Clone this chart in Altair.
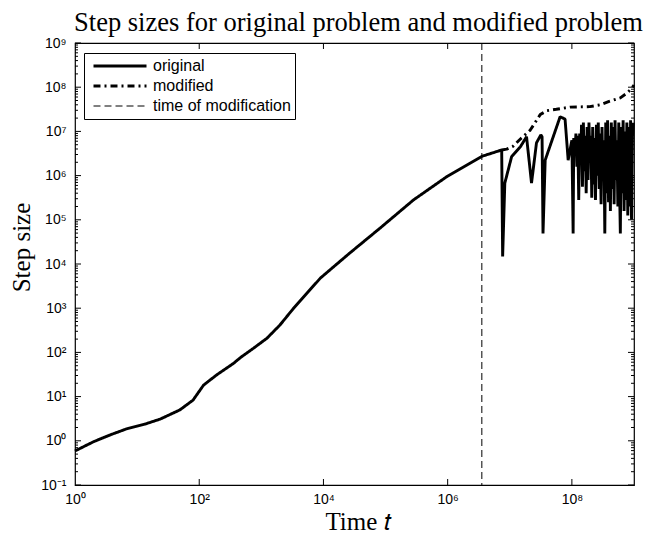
import altair as alt
import pandas as pd

# ---- data (log10 values) ----
orig_log_t = [0.0, 0.3, 0.56, 0.83, 1.13, 1.37, 1.69, 1.90, 2.07, 2.28, 2.55, 2.68, 2.87, 3.09,
              3.30, 3.52, 3.95, 4.40, 4.91, 5.45, 5.99, 6.56, 6.87, 6.885, 6.92, 7.03, 7.17, 7.27,
              7.35, 7.43, 7.50, 7.52, 7.535, 7.57, 7.81, 7.89, 7.94, 8.0, 8.02,
              8.03, 8.05, 8.065, 8.08, 8.095, 8.11, 8.125, 8.14, 8.155, 8.17, 8.185, 8.20, 8.215,
              8.23, 8.245, 8.26, 8.275, 8.29, 8.305, 8.32, 8.335, 8.35, 8.365, 8.38, 8.395, 8.41,
              8.425, 8.44, 8.455, 8.47, 8.485, 8.50, 8.515, 8.53, 8.545, 8.56, 8.575, 8.59, 8.605,
              8.62, 8.635, 8.65, 8.665, 8.68, 8.695, 8.71, 8.725, 8.74, 8.755, 8.77, 8.78, 8.795,
              8.81, 8.825, 8.84, 8.855, 8.87, 8.885, 8.90, 8.915, 8.93, 8.945, 8.96, 8.975, 8.99]
orig_log_s = [-0.23, -0.02, 0.13, 0.27, 0.38, 0.49, 0.70, 0.92, 1.26, 1.49, 1.75, 1.90, 2.09, 2.32,
              2.62, 3.0, 3.68, 4.22, 4.81, 5.45, 5.98, 6.44, 6.58, 4.17, 5.83, 6.43, 6.65, 6.88,
              5.83, 6.74, 6.92, 6.88, 4.69, 6.35, 7.33, 7.28, 6.35, 6.8, 4.69,
              6.85, 6.55, 6.95, 6.2, 6.9, 5.45, 6.95, 6.3, 7.15, 5.75, 7.2, 6.1, 6.9,
              5.6, 7.1, 5.9, 7.2, 6.4, 6.9, 5.5, 7.1, 5.8, 6.85, 5.45, 7.15, 6.0,
              7.2, 5.7, 6.95, 5.35, 7.1, 5.9, 6.8, 4.69, 7.2, 5.6, 7.25, 5.4, 6.9,
              5.2, 7.2, 5.7, 7.1, 5.35, 7.25, 5.9, 6.8, 5.3, 7.2, 5.5, 4.69, 7.1,
              5.6, 7.25, 5.2, 7.0, 5.45, 7.2, 5.1, 7.1, 5.3, 7.25, 5.0, 6.9, 7.2]

mod_log_t = [6.87, 6.95, 7.05, 7.15, 7.33, 7.49, 7.60, 7.75, 7.97, 8.29, 8.45, 8.60, 8.78, 8.90, 8.96, 9.0]
mod_log_s = [6.58, 6.60, 6.66, 6.80, 7.03, 7.38, 7.47, 7.50, 7.55, 7.56, 7.60, 7.68, 7.76, 7.88, 7.97, 8.05]

modification_time = 3.55e6

series_names = ["original", "modified", "time of modification"]
x_tick_values = [1, 1e2, 1e4, 1e6, 1e8]
y_tick_values = [1e-1, 1e0, 1e1, 1e2, 1e3, 1e4, 1e5, 1e6, 1e7, 1e8, 1e9]
y_minor_values = [m * d for d in [1e-1, 1e0, 1e1, 1e2, 1e3, 1e4, 1e5, 1e6, 1e7, 1e8] for m in range(2, 10)]

# ---- tables ----
df_orig = pd.DataFrame({"lt": orig_log_t, "ls": orig_log_s, "series": "original"})
df_mod = pd.DataFrame({"lt": mod_log_t, "ls": mod_log_s, "series": "modified"})
df = pd.concat([df_orig, df_mod], ignore_index=True)
df["t"] = 10 ** df["lt"]
df["s"] = 10 ** df["ls"]
df["order"] = range(len(df))
df_vline = pd.DataFrame({"t": [modification_time], "series": ["time of modification"]})

W, H = 559, 442

xs = alt.Scale(type="log", domain=[1, 1e9], nice=False)
ys = alt.Scale(type="log", domain=[0.1, 1e9], nice=False)
dash_scale = alt.Scale(domain=series_names, range=[[1, 0], [7, 4, 2, 4], [7, 4]])
width_scale = alt.Scale(type="ordinal", domain=series_names, range=[2.9, 2.9, 1.0])

sup = "['\u207b\u00b9','\u2070','\u00b9','\u00b2','\u00b3','\u2074','\u2075','\u2076','\u2077','\u2078','\u2079'][round(log(datum.value)/LN10)+1]"
label_expr = "'10' + " + sup

legend = alt.Legend(title=None, orient="none", legendX=9, legendY=10)

x_axis = alt.Axis(values=x_tick_values, labelExpr=label_expr, labelFlush=False, labelOverlap=False,
                  labelPadding=7, title="Time \U0001D461", titleX=283, titleY=36,
                  titleBaseline="middle", titleAlign="center")
y_axis = alt.Axis(values=y_tick_values, labelExpr=label_expr, labelFlush=False, labelOverlap=False,
                  labelPadding=9, title="Step size", titleX=-54, titleY=204, titleAngle=270,
                  titleBaseline="middle", titleAlign="center")

lines = alt.Chart(df).mark_line(color="black", strokeJoin="bevel").encode(
    x=alt.X("t:Q", scale=xs, axis=x_axis),
    y=alt.Y("s:Q", scale=ys, axis=y_axis),
    order="order:Q",
    strokeDash=alt.StrokeDash("series:N", scale=dash_scale, legend=legend),
    strokeWidth=alt.StrokeWidth("series:N", scale=width_scale, legend=legend),
)

vline = alt.Chart(df_vline).mark_rule(color="black").encode(
    x=alt.X("t:Q", scale=xs, axis=x_axis),
    strokeDash=alt.StrokeDash("series:N", scale=dash_scale, legend=legend),
    strokeWidth=alt.StrokeWidth("series:N", scale=width_scale, legend=legend),
)

ymaj = pd.DataFrame({"s": y_tick_values})
ymin = pd.DataFrame({"s": y_minor_values})
xmaj = pd.DataFrame({"t": x_tick_values[1:]})

def ytick_layer(data, x0, x1):
    return alt.Chart(data).mark_rule(color="black", strokeWidth=1).encode(
        y=alt.Y("s:Q", scale=ys, axis=y_axis), x=alt.value(x0), x2=alt.value(x1))

def xtick_layer(data, y0, y1):
    return alt.Chart(data).mark_rule(color="black", strokeWidth=1).encode(
        x=alt.X("t:Q", scale=xs, axis=x_axis), y=alt.value(y0), y2=alt.value(y1))

ticks = [
    ytick_layer(ymaj, 0, 6), ytick_layer(ymaj, W - 6, W),
    ytick_layer(ymin, 0, 3), ytick_layer(ymin, W - 3, W),
    xtick_layer(xmaj, H - 6, H), xtick_layer(xmaj, 0, 6),
]

chart = alt.layer(vline, lines, *ticks).properties(
    width=W, height=H,
    padding={"left": 75, "top": 43, "right": 15, "bottom": 51},
    autosize=alt.AutoSizeParams(type="none"),
    title=alt.Title("Step sizes for original problem and modified problem", font="Liberation Serif",
                    fontSize=26.5, fontWeight="normal", anchor="middle", frame="group",
                    baseline="alphabetic", offset=11, dx=4, dy=32, color="black"),
).configure_view(stroke="black", strokeWidth=1.2).configure_axis(
    labelFont="Liberation Sans", labelFontSize=14, labelColor="black",
    ticks=False, grid=False, domain=False,
    titleFont="Liberation Serif", titleFontSize=25, titleFontWeight="normal", titleColor="black",
).configure_legend(
    symbolType="stroke", symbolSize=2809, clipHeight=18, labelFont="Liberation Sans",
    labelFontSize=16, labelColor="black", strokeColor="black", fillColor="white", padding=4,
    symbolOffset=4, labelOffset=5, symbolStrokeColor="black", cornerRadius=0,
)

chart.save("out.html", embed_options={"renderer": "svg", "actions": False})
